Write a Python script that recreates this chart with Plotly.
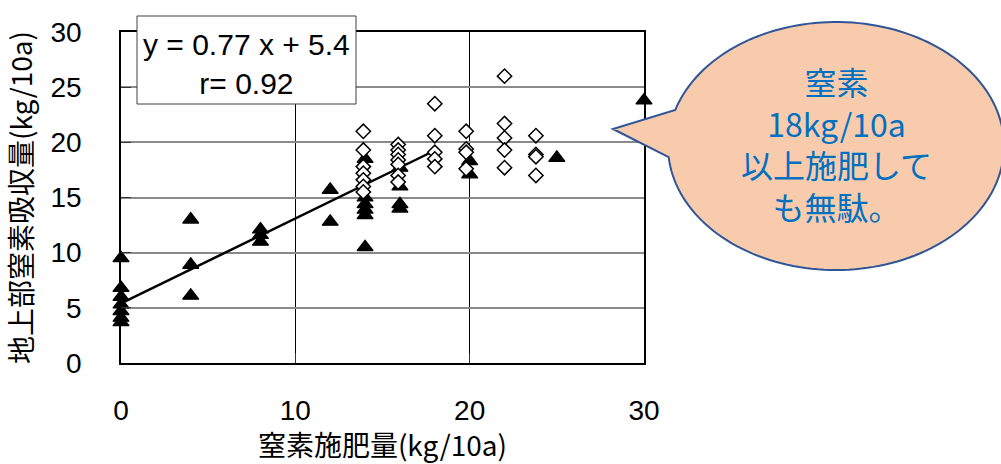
import numpy as np
import plotly.graph_objects as go

# ---------------- data ----------------
tri_x = [0, 0, 0, 0, 0, 0, 0,
         4, 4, 4,
         8, 8, 8,
         12, 12,
         14, 14, 14, 14, 14, 14,
         16, 16, 16, 16,
         20, 20,
         25, 30]
tri_y = [9.5, 6.8, 6.0, 5.3, 4.7, 4.1, 3.7,
         13.0, 8.9, 6.1,
         12.1, 11.6, 11.0,
         15.7, 12.8,
         18.5, 15.0, 14.4, 13.9, 13.4, 10.5,
         17.7, 16.0, 14.4, 14.0,
         18.3, 17.1,
         18.6, 23.8]

dia_x = [13.9, 13.9, 13.9, 13.9, 13.9, 13.9, 13.9,
         15.9, 15.9, 15.9, 15.9, 15.9, 15.9, 15.9,
         18, 18, 18, 18, 18,
         19.8, 19.8, 19.8, 19.8,
         22, 22, 22, 22, 22,
         23.8, 23.8, 23.8, 23.8]
dia_y = [21.0, 19.3, 17.8, 17.2, 16.6, 16.0, 15.5,
         19.8, 19.3, 18.9, 18.4, 18.0, 17.0, 16.4,
         23.5, 20.6, 19.1, 18.5, 17.8,
         21.0, 19.4, 19.1, 17.6,
         26.0, 21.7, 20.4, 19.3, 17.7,
         20.6, 18.9, 18.7, 17.0]

fit_slope = 0.77
fit_intercept = 5.4
fit_x = [0, 18]
fit_y = [fit_intercept + fit_slope * v for v in fit_x]

x_ticks = [0, 10, 20, 30]
y_ticks = [0, 5, 10, 15, 20, 25, 30]
x_title = "窒素施肥量(kg/10a)"
y_title = "地上部窒素吸収量(kg/10a)"
eq_lines = ["y = 0.77 x + 5.4", "r= 0.92"]
callout_lines = ["窒素", "18kg/10a", "以上施肥して", "も無駄。"]

# ---------------- layout geometry ----------------
W, H = 1001, 464
L, R, T, B = 121, 357, 32, 101
PW, PH = W - L - R, H - T - B


def px(xp):
    return (xp - L) / PW


def py(yp):
    return (H - B - yp) / PH


fig = go.Figure()

fig.add_trace(go.Scatter(
    x=tri_x, y=tri_y, mode="markers", cliponaxis=False,
    marker=dict(symbol="triangle-up", size=14, color="black",
                line=dict(color="black", width=1.2)),
    showlegend=False, hoverinfo="skip"))

fig.add_trace(go.Scatter(
    x=fit_x, y=fit_y, mode="lines", cliponaxis=False,
    line=dict(color="black", width=2.5),
    showlegend=False, hoverinfo="skip"))

fig.add_trace(go.Scatter(
    x=dia_x, y=dia_y, mode="markers", cliponaxis=False,
    marker=dict(symbol="diamond", size=11, color="white",
                line=dict(color="black", width=1.5)),
    showlegend=False, hoverinfo="skip"))

tick_font = dict(family="Liberation Sans, Arial, sans-serif", size=28, color="black")
title_font = dict(family="Noto Sans CJK JP, sans-serif", size=28, color="black")

fig.update_xaxes(
    range=[0, 30], tickvals=x_ticks, ticktext=[str(v) for v in x_ticks],
    showgrid=True, gridcolor="black", gridwidth=1,
    showline=True, mirror=True, linecolor="black", linewidth=1.5,
    ticks="inside", ticklen=10, tickcolor="#333333",
    tickfont=tick_font, ticklabelstandoff=22,
    zeroline=False,
    title=dict(text=x_title, font=title_font, standoff=8))

fig.update_yaxes(
    range=[0, 30], tickvals=y_ticks, ticktext=[str(v) for v in y_ticks],
    showgrid=True, gridcolor="#8a8a8a", gridwidth=1.5,
    showline=True, mirror=True, linecolor="black", linewidth=1.5,
    ticks="inside", ticklen=10, tickcolor="#333333",
    tickfont=tick_font, ticklabelstandoff=32,
    zeroline=False,
    title=dict(text=y_title, font=title_font, standoff=10))

shapes = []
# darker horizontal gridlines at the major values
for yv in [10, 20]:
    shapes.append(dict(type="line", xref="paper", yref="y", x0=0, x1=1,
                       y0=yv, y1=yv, line=dict(color="black", width=1),
                       layer="between"))

# equation box
shapes.append(dict(type="rect", xref="paper", yref="paper",
                   x0=px(137), x1=px(356), y0=py(104), y1=py(16),
                   fillcolor="white", line=dict(color="#404040", width=1),
                   layer="above"))

# speech-bubble callout (ellipse + tail)
cx, cy, rx, ry = 836, 146, 168, 124
tip = (613, 129)
a_up = np.arctan2((110 - cy) / ry, (676 - cx) / rx)
a_lo = np.arctan2((157 - cy) / ry, (670 - cx) / rx)
if a_up < 0:
    a_up += 2 * np.pi
if a_lo < 0:
    a_lo += 2 * np.pi
angles = np.linspace(a_lo, a_up - 2 * np.pi if a_up > a_lo else a_up, 160)
pts = [(cx + rx * np.cos(a), cy + ry * np.sin(a)) for a in angles]
path = "M {:.5f},{:.5f} ".format(px(tip[0]), py(tip[1]))
for (xx, yy) in pts:
    path += "L {:.5f},{:.5f} ".format(px(xx), py(yy))
path += "Z"
shapes.append(dict(type="path", xref="paper", yref="paper", path=path,
                   fillcolor="#F8CBAD", line=dict(color="#2F5597", width=2),
                   layer="above"))

annotations = []
annotations.append(dict(
    xref="paper", yref="paper", x=px(246.5), y=py(63.5),
    text="<br>".join(eq_lines), showarrow=False, align="center",
    xanchor="center", yanchor="middle",
    font=dict(family="Liberation Sans, Arial, sans-serif", size=30, color="black")))

annotations.append(dict(
    xref="paper", yref="paper", x=px(836), y=py(143),
    text="<br>".join(callout_lines), showarrow=False, align="center",
    xanchor="center", yanchor="middle",
    font=dict(family="Noto Sans CJK JP, sans-serif", size=32, color="#0070C0")))

fig.update_layout(
    width=W, height=H, margin=dict(l=L, r=R, t=T, b=B, autoexpand=False),
    paper_bgcolor="white", plot_bgcolor="white",
    shapes=shapes, annotations=annotations)

fig.write_html("out.html")
